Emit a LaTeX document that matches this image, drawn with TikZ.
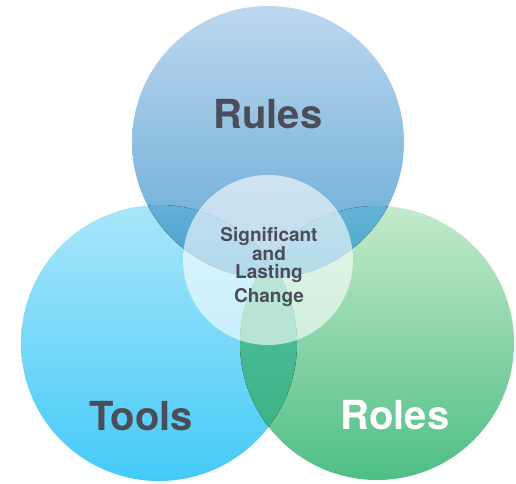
\documentclass[tikz,border=0pt]{standalone}
\usepackage{fontspec}
\setmainfont{TeX Gyre Heros}

\definecolor{rulesTop}{HTML}{BDD7EF}
\definecolor{rulesBot}{HTML}{62A8D4}
\definecolor{toolsTop}{HTML}{AAE6FA}
\definecolor{toolsBot}{HTML}{44CAF8}
\definecolor{rolesTop}{HTML}{C4EACC}
\definecolor{rolesBot}{HTML}{4EBE86}
\definecolor{tlTop}{HTML}{66B0D8}
\definecolor{tlBot}{HTML}{3CA0CE}
\definecolor{rlTop}{HTML}{68B2D6}
\definecolor{rlBot}{HTML}{42A8C6}
\definecolor{trTop}{HTML}{58C2A0}
\definecolor{trBot}{HTML}{3AB286}
\definecolor{labelGray}{HTML}{4B4E5A}

\begin{document}
\begin{tikzpicture}[x=1pt,y=-1pt]
                        \useasboundingbox (0,0) rectangle (516,483);
                        % Tools
                        \draw (159,343) node[circle,inner sep=0pt,minimum size=276pt,top color=toolsTop,bottom color=toolsBot] (T) {};
                        % Roles
                        \draw (377,343) node[circle,inner sep=0pt,minimum size=274pt,top color=rolesTop,bottom color=rolesBot] (R) {};
                        % Rules
                        \draw (268,142) node[circle,inner sep=0pt,minimum size=272pt,top color=rulesTop,bottom color=rulesBot] (U) {};
                        % overlaps
                        \begin{scope}
                        \clip (T.center) circle (138);
                        \clip (R.center) circle (137);
                        \fill[top color=trTop,bottom color=trBot] (230,255) rectangle (300,430);
                        \end{scope}
                        \begin{scope}
                        \clip (T.center) circle (138);
                        \clip (U.center) circle (136);
                        \fill[top color=tlTop,bottom color=tlBot] (120,200) rectangle (300,282);
                        \end{scope}
                        \begin{scope}
                        \clip (R.center) circle (137);
                        \clip (U.center) circle (136);
                        \fill[top color=rlTop,bottom color=rlBot] (230,200) rectangle (420,282);
                        \end{scope}
                        % centre
                        \draw (268,260) node[circle,inner sep=0pt,minimum size=170pt,fill=white,fill opacity=0.6] (C) {};
                        % labels
                        \node[anchor=base,text=labelGray,font=\bfseries\fontsize{40}{40}\selectfont] (UL) at (268,128) {Rules};
                        \node[anchor=base,text=labelGray,font=\bfseries\fontsize{40}{40}\selectfont] (TL) at (141,430) {Tools};
                        \node[anchor=base,text=white,font=\bfseries\fontsize{40}{40}\selectfont] (RL) at (395,429) {Roles};
                        \node[align=center,text=labelGray,font=\bfseries\fontsize{19}{17.5}\selectfont] (CL) at (269,267) {Significant\\and\\Lasting\\[5pt]Change};
                    \end{tikzpicture}
\end{document}
